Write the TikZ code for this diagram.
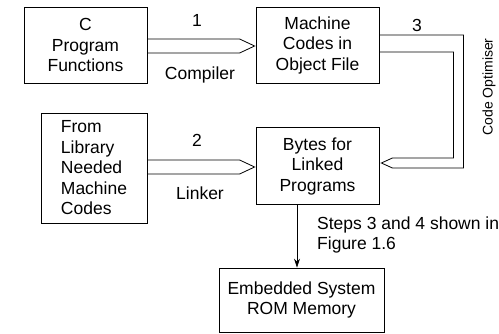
\documentclass[tikz,border=0pt]{standalone}
\usepackage{fontspec}
\setmainfont{Liberation Sans}
\usetikzlibrary{calc,arrows.meta}
\tikzset{
  box/.style={draw, line width=0.8pt, inner sep=0pt, align=center,
    font=\fontsize{17.5}{20.5}\selectfont},
  conn/.style={line width=0.8pt, line join=miter},
  lbl/.style={font=\fontsize{17.5}{20.5}\selectfont, inner sep=0pt},
}
\begin{document}
\begin{tikzpicture}[x=1pt,y=-1pt]
\useasboundingbox (0,0) rectangle (499,334);
\node[box, minimum width=123pt, minimum height=76pt] (b1) at (85.5,45) {C\\Program\\Functions};
\node[box, minimum width=123pt, minimum height=76pt] (b2) at (317.5,45) {Machine\\Codes in\\Object File};
\node[box, minimum width=106pt, minimum height=110pt, align=left] (b3) at (94,168) {From\\Library\\Needed\\Machine\\Codes};
\node[box, minimum width=123pt, minimum height=77pt] (b4) at (317.5,166) {Bytes for\\Linked\\Programs};
\node[box, minimum width=165pt, minimum height=64pt] (b5) at (301.5,300) {Embedded System\\ROM Memory};
% compiler
\draw[conn] ($(b1.east)+(0,-6)$) -- ($(b2.west)+(-16,-6)$) -- ($(b2.west)+(-1,1)$) -- ($(b2.west)+(-16,8)$) -- ($(b1.east)+(0,8)$);
% linker
\draw[conn] ($(b3.east)+(0,-8)$) -- ($(b4.west)+(-16,-6)$) -- ($(b4.west)+(-1,1)$) -- ($(b4.west)+(-16,8)$) -- ($(b3.east)+(0,6)$);
% code optimiser
\draw[conn] ($(b2.east)+(0,-10)$) -| ($(b4.east)+(84,2)$) -- ($(b4.east)+(13,2)$) -- ($(b4.east)+(2,-3)$) -- ($(b4.east)+(13,-8)$) -| ($(b2.east)+(74,7)$) -- ($(b2.east)+(0,7)$);
% down arrow
\draw[line width=0.8pt, -{Stealth[length=9pt,width=6pt]}] (b4.south -| 297,0) -- (b5.north -| 297,0);
\node[lbl] (n1) at (197,20) {1};
\node[lbl] (comp) at (200,75) {Compiler};
\node[lbl] (n2) at (197,140) {2};
\node[lbl] (link) at (200,193) {Linker};
\node[lbl] (n3) at (417,25) {3};
\node[lbl, font=\fontsize{14}{16}\selectfont, rotate=90] (opt) at (489,87) {Code Optimiser};
\node[lbl, anchor=west, align=left] (steps) at (317,235) {Steps 3 and 4 shown in\\Figure 1.6};
\end{tikzpicture}
\end{document}
